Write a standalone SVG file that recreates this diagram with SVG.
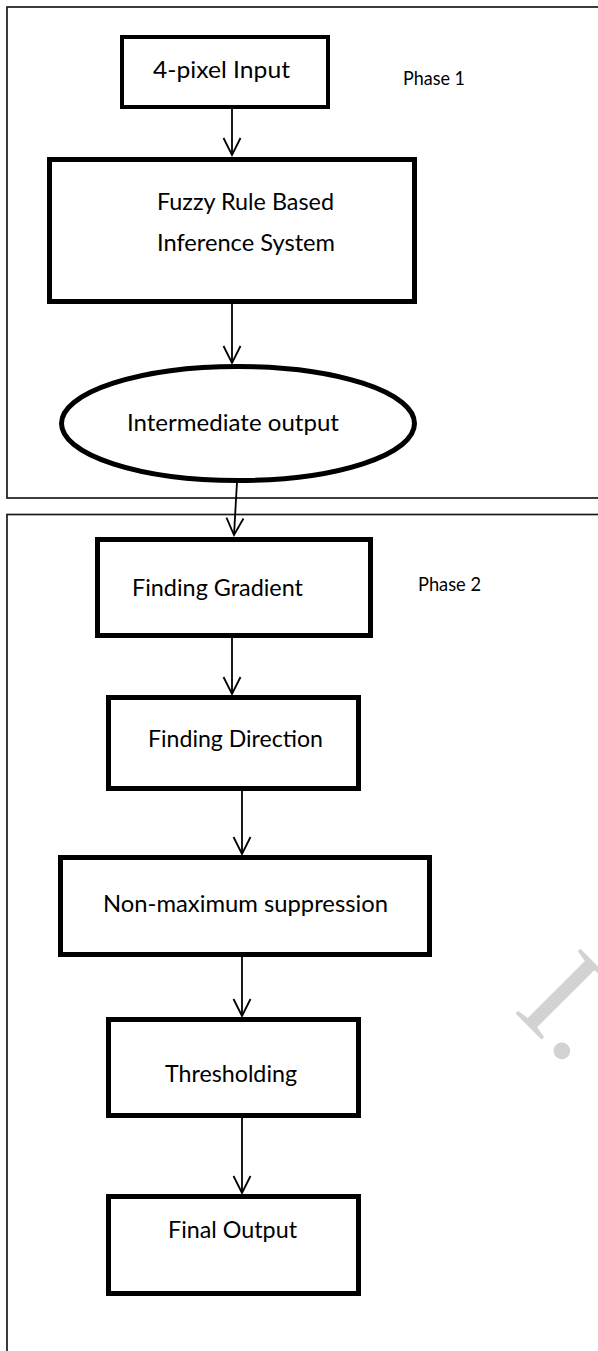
<svg xmlns="http://www.w3.org/2000/svg" width="598" height="1351" viewBox="0 0 598 1351">
<style>
.phase{fill:none;stroke:#1a1a1a;stroke-width:1.7}
.node{fill:#fff;stroke:#000}
.lbl{font-family:Lato,"Open Sans","Liberation Sans",sans-serif;font-size:23px;fill:#000}
.plbl{font-family:Lato,"Open Sans","Liberation Sans",sans-serif;font-size:19px;fill:#000}
.conn{stroke:#000;stroke-width:1.8;fill:none}
.wm{font-family:"Liberation Serif",serif;font-size:140px;fill:#d2d2d2}
</style>
<defs>
<marker id="arr" markerUnits="userSpaceOnUse" markerWidth="40" markerHeight="40" viewBox="-20 -20 40 40" refX="0" refY="0" orient="auto">
<path d="M-17,-8.5 L0,0 L-17,8.5" fill="none" stroke="#000" stroke-width="1.8"/>
</marker>
</defs>
<rect width="598" height="1351" fill="#fff"/>
<text class="wm" x="512" y="1010" transform="rotate(45 512 1010)">I.</text>
<g id="phase1">
<rect class="phase" x="7" y="7" width="620" height="491"/>
<text class="plbl" x="403" y="85" textLength="62" lengthAdjust="spacingAndGlyphs">Phase 1</text>
</g>
<g id="phase2">
<rect class="phase" x="7" y="514.5" width="620" height="900"/>
<text class="plbl" x="418" y="591" textLength="63" lengthAdjust="spacingAndGlyphs">Phase 2</text>
</g>
<g id="connectors">
<line class="conn" x1="232" y1="109" x2="232" y2="155" marker-end="url(#arr)"/>
<line class="conn" x1="232" y1="304" x2="232" y2="363" marker-end="url(#arr)"/>
<line class="conn" x1="237" y1="482" x2="234" y2="535" marker-end="url(#arr)"/>
<line class="conn" x1="232" y1="638" x2="232" y2="694" marker-end="url(#arr)"/>
<line class="conn" x1="242" y1="791" x2="242" y2="854" marker-end="url(#arr)"/>
<line class="conn" x1="242" y1="957" x2="242" y2="1016" marker-end="url(#arr)"/>
<line class="conn" x1="242" y1="1118" x2="242" y2="1193" marker-end="url(#arr)"/>
</g>
<g id="input">
<rect class="node" x="122" y="37" width="206" height="70" stroke-width="4"/>
<text class="lbl" x="153" y="78" textLength="137" lengthAdjust="spacingAndGlyphs">4-pixel Input</text>
</g>
<g id="fuzzy">
<rect class="node" x="49.5" y="159.5" width="365" height="142" stroke-width="5"/>
<text class="lbl" x="157" y="210" textLength="177" lengthAdjust="spacingAndGlyphs">Fuzzy Rule Based</text>
<text class="lbl" x="157" y="251" textLength="178" lengthAdjust="spacingAndGlyphs">Inference System</text>
</g>
<g id="intermediate">
<ellipse class="node" cx="238" cy="423.5" rx="176.5" ry="57" stroke-width="5"/>
<text class="lbl" x="127" y="431" textLength="212" lengthAdjust="spacingAndGlyphs">Intermediate output</text>
</g>
<g id="gradient">
<rect class="node" x="97.5" y="539.5" width="273" height="96" stroke-width="5"/>
<text class="lbl" x="132" y="596" textLength="171" lengthAdjust="spacingAndGlyphs">Finding Gradient</text>
</g>
<g id="direction">
<rect class="node" x="108.5" y="697.5" width="250" height="91" stroke-width="5"/>
<text class="lbl" x="148" y="747" textLength="175" lengthAdjust="spacingAndGlyphs">Finding Direction</text>
</g>
<g id="nms">
<rect class="node" x="60.5" y="857.5" width="369" height="97" stroke-width="5"/>
<text class="lbl" x="103" y="912" textLength="285" lengthAdjust="spacingAndGlyphs">Non-maximum suppression</text>
</g>
<g id="threshold">
<rect class="node" x="108.5" y="1019.5" width="250" height="96" stroke-width="5"/>
<text class="lbl" x="165" y="1082" textLength="132" lengthAdjust="spacingAndGlyphs">Thresholding</text>
</g>
<g id="final">
<rect class="node" x="108.5" y="1196.5" width="250" height="97" stroke-width="5"/>
<text class="lbl" x="168" y="1238" textLength="129" lengthAdjust="spacingAndGlyphs">Final Output</text>
</g>
</svg>
